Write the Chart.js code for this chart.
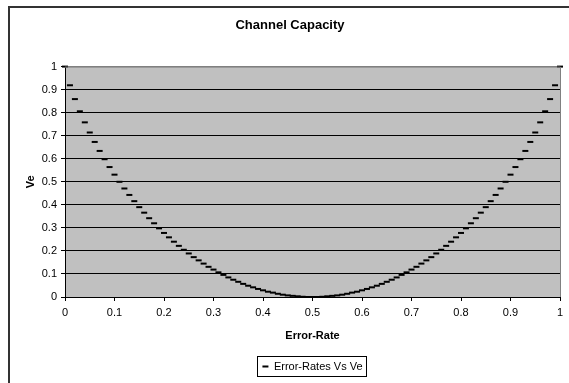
<!DOCTYPE html>
<html>
<head>
<meta charset="utf-8">
<script src="https://cdn.jsdelivr.net/npm/chart.js@4"></script>
<style>
  body { margin: 0; background: #fff; }
</style>
</head>
<body>
<canvas id="capacityChart" width="569" height="383"></canvas>
<script>
const errorRates = [
  0, 0.01, 0.02, 0.03, 0.04, 0.05, 0.06, 0.07, 0.08, 0.09,
  0.1, 0.11, 0.12, 0.13, 0.14, 0.15, 0.16, 0.17, 0.18, 0.19,
  0.2, 0.21, 0.22, 0.23, 0.24, 0.25, 0.26, 0.27, 0.28, 0.29,
  0.3, 0.31, 0.32, 0.33, 0.34, 0.35, 0.36, 0.37, 0.38, 0.39,
  0.4, 0.41, 0.42, 0.43, 0.44, 0.45, 0.46, 0.47, 0.48, 0.49,
  0.5, 0.51, 0.52, 0.53, 0.54, 0.55, 0.56, 0.57, 0.58, 0.59,
  0.6, 0.61, 0.62, 0.63, 0.64, 0.65, 0.66, 0.67, 0.68, 0.69,
  0.7, 0.71, 0.72, 0.73, 0.74, 0.75, 0.76, 0.77, 0.78, 0.79,
  0.8, 0.81, 0.82, 0.83, 0.84, 0.85, 0.86, 0.87, 0.88, 0.89,
  0.9, 0.91, 0.92, 0.93, 0.94, 0.95, 0.96, 0.97, 0.98, 0.99,
  1
];

const veValues = [
  1, 0.919, 0.859, 0.806, 0.758, 0.714, 0.673, 0.634, 0.598, 0.564,
  0.531, 0.5, 0.471, 0.443, 0.416, 0.39, 0.366, 0.342, 0.32, 0.298,
  0.278, 0.259, 0.24, 0.222, 0.205, 0.189, 0.173, 0.159, 0.145, 0.131,
  0.119, 0.107, 0.096, 0.085, 0.075, 0.066, 0.057, 0.049, 0.042, 0.035,
  0.029, 0.023, 0.019, 0.014, 0.01, 0.007, 0.005, 0.003, 0.001, 0,
  0, 0, 0.001, 0.003, 0.005, 0.007, 0.01, 0.014, 0.019, 0.023,
  0.029, 0.035, 0.042, 0.049, 0.057, 0.066, 0.075, 0.085, 0.096, 0.107,
  0.119, 0.131, 0.145, 0.159, 0.173, 0.189, 0.205, 0.222, 0.24, 0.259,
  0.278, 0.298, 0.32, 0.342, 0.366, 0.39, 0.416, 0.443, 0.471, 0.5,
  0.531, 0.564, 0.598, 0.634, 0.673, 0.714, 0.758, 0.806, 0.859, 0.919,
  1
];

const chartTitle = "Channel Capacity";
const seriesName = "Error-Rates Vs Ve";
const xTitle = "Error-Rate";
const yTitle = "Ve";

const FONT = "'Liberation Sans', Arial, sans-serif";

// excel-ish frame, grey plot area, legend box
const excelLook = {
  id: "excelLook",
  beforeDraw(chart) {
    const ctx = chart.ctx;
    const a = chart.chartArea;
    ctx.save();
    ctx.fillStyle = "#fff";
    ctx.fillRect(0, 0, chart.width, chart.height);
    ctx.strokeStyle = "#333";
    ctx.lineWidth = 2;
    ctx.strokeRect(9, 7, chart.width + 20, chart.height + 20);
    ctx.fillStyle = "#c0c0c0";
    ctx.fillRect(a.left, a.top, a.right - a.left, a.bottom - a.top);
    ctx.restore();
  },
  afterDraw(chart) {
    const ctx = chart.ctx;
    const a = chart.chartArea;
    ctx.save();
    ctx.strokeStyle = "#808080";
    ctx.lineWidth = 1;
    ctx.beginPath();
    ctx.moveTo(a.left, a.top + 0.5);
    ctx.lineTo(a.right + 0.5, a.top + 0.5);
    ctx.lineTo(a.right + 0.5, a.bottom);
    ctx.stroke();
    const boxes = chart.legend.legendHitBoxes;
    if (boxes && boxes.length) {
      const b = boxes[0];
      ctx.strokeStyle = "#000";
      ctx.strokeRect(Math.round(b.left) - 4.5, Math.round(b.top) - 4.5,
        Math.round(b.width) + 9, Math.round(b.height) + 9);
    }
    ctx.restore();
  }
};

// 0, 0.1 ... 0.9, 1 like excel does
function tickLabel(v) {
  return String(Math.round(v * 10) / 10);
}

Chart.defaults.font.family = FONT;
Chart.defaults.color = "#000";

const config = {
  type: "scatter",
  data: {
    datasets: [
      {
        label: seriesName,
        data: errorRates.map(function (x, i) {
          return { x: x, y: veValues[i] };
        }),
        pointStyle: "line",
        pointRadius: 3,
        pointHoverRadius: 3,
        pointBorderWidth: 2,
        borderColor: "#000",
        backgroundColor: "#000",
        showLine: false,
        clip: false,
      },
    ],
  },
  options: {
    responsive: false,
    animation: false,
    devicePixelRatio: 1,
    layout: { padding: { left: 20, right: 9, top: 0, bottom: 1 } },
    plugins: {
      title: {
        display: true,
        text: chartTitle,
        font: { size: 13, weight: "bold" },
        color: "#000",
        padding: { top: 18, bottom: 33 },
      },
      legend: {
        position: "bottom",
        fullSize: false,
        labels: {
          usePointStyle: true,
          pointStyleWidth: 6,
          font: { size: 11 },
          color: "#000",
          padding: 10,
        },
      },
      tooltip: { enabled: false },
    },
    scales: {
      x: {
        type: "linear",
        min: 0,
        max: 1,
        ticks: { stepSize: 0.1, font: { size: 11 }, padding: 5, maxRotation: 0, callback: tickLabel },
        grid: { drawOnChartArea: false, tickLength: 4, tickColor: "#000" },
        border: { color: "#000", width: 1 },
        title: {
          display: true,
          text: xTitle,
          font: { size: 11, weight: "bold" },
          padding: { top: 4, bottom: 8 },
        },
        afterFit: function (s) {
          s.height = 54;
        },
      },
      y: {
        min: 0,
        max: 1,
        ticks: { stepSize: 0.1, font: { size: 11 }, padding: 4, callback: tickLabel },
        grid: {
          color: function (c) {
            return c.tick && c.tick.value === 1 ? "#808080" : "#000";
          },
          tickLength: 4,
          tickColor: "#000",
        },
        border: { color: "#000", width: 1 },
        title: {
          display: true,
          text: yTitle,
          font: { size: 11, weight: "bold" },
          padding: 4,
        },
        afterFit: function (s) {
          s.width = 45;
        },
      },
    },
  },
  plugins: [excelLook],
};

const capacityChart = new Chart(document.getElementById("capacityChart"), config);
</script>
</body>
</html>
